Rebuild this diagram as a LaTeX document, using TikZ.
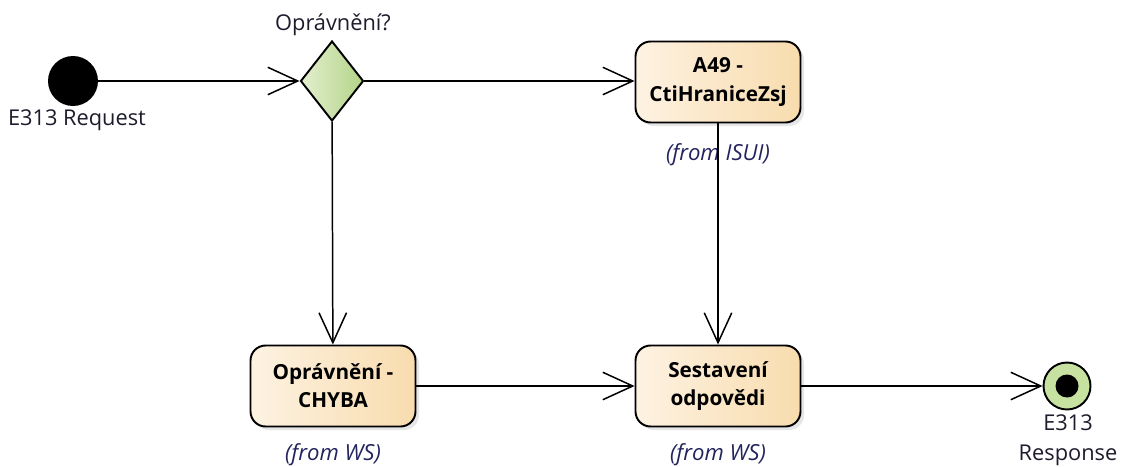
\documentclass[tikz,border=0pt]{standalone}
\usepackage{fontspec}
\setmainfont{Open Sans}
\usetikzlibrary{arrows.meta,shapes.geometric,shadows}

\definecolor{actLeft}{HTML}{FDF2E2}
\definecolor{actRight}{HTML}{F8DCAE}
\definecolor{gateLeft}{HTML}{E3EFCF}
\definecolor{gateRight}{HTML}{B3D488}
\definecolor{endFill}{HTML}{C6E1A0}
\definecolor{fromText}{HTML}{23235E}
\definecolor{nameText}{HTML}{1C1C2C}

\tikzset{
    action/.style={rectangle, rounded corners=0.3cm, draw, line width=1.1pt,
        minimum width=3.3cm, minimum height=1.62cm, align=center,
        left color=actLeft, right color=actRight,
        font=\fontsize{11.8}{16}\selectfont\bfseries,
        drop shadow={shadow xshift=2pt, shadow yshift=-2pt, opacity=0.2}},
    gate/.style={diamond, draw, line width=1.1pt, inner sep=0pt,
        minimum width=1.26cm, minimum height=1.6cm,
        left color=gateLeft, right color=gateRight},
    fromnote/.style={font=\fontsize{12.6}{15}\selectfont\itshape, text=fromText},
    plain/.style={font=\fontsize{12.4}{17}\selectfont, text=nameText, align=center},
    flow/.style={line width=0.85pt, -{Straight Barb[length=0.6cm, width=0.55cm, line width=0.85pt]}}
}

\begin{document}
\begin{tikzpicture}[x=0.02cm, y=-0.02cm]
        \useasboundingbox (0,0) rectangle (1121,466);

        % start and end
        \node[circle, fill=black, minimum size=1cm, inner sep=0pt] (request) at (73,81) {};
        \node[plain] (requestname) at (77,120) {E313 Request};
        \node[circle, draw, line width=1.1pt, fill=endFill, minimum size=0.94cm, inner sep=0pt] (response) at (1067,386) {};
        \node[circle, fill=black, minimum size=0.46cm, inner sep=0pt] (responsedot) at (response) {};
        \node[plain] (responsename) at (1068,440) {E313\\Response};

        % decision
        \node[gate] (opr) at (332,81) {};
        \node[plain] (oprname) at (333,25) {Oprávnění?};

        % actions
        \node[action] (a49) at (718,82) {A49 -\\CtiHraniceZsj};
        \node[fromnote] (a49from) at (718,155) {(from ISUI)};
        \node[action] (chyba) at (333,386) {Oprávnění -\\CHYBA};
        \node[fromnote] (chybafrom) at (333,455) {(from WS)};
        \node[action] (sest) at (718,386) {Sestavení\\odpovědi};
        \node[fromnote] (sestfrom) at (718,455) {(from WS)};

        \draw[flow] (request) -- (opr);
        \draw[flow] (opr) -- (a49.west |- opr);
        \draw[flow] (opr) -- (chyba);
        \draw[flow] (a49) -- (sest);
        \draw[flow] (chyba) -- (sest);
        \draw[flow] (sest) -- (response);
    \end{tikzpicture}
\end{document}
